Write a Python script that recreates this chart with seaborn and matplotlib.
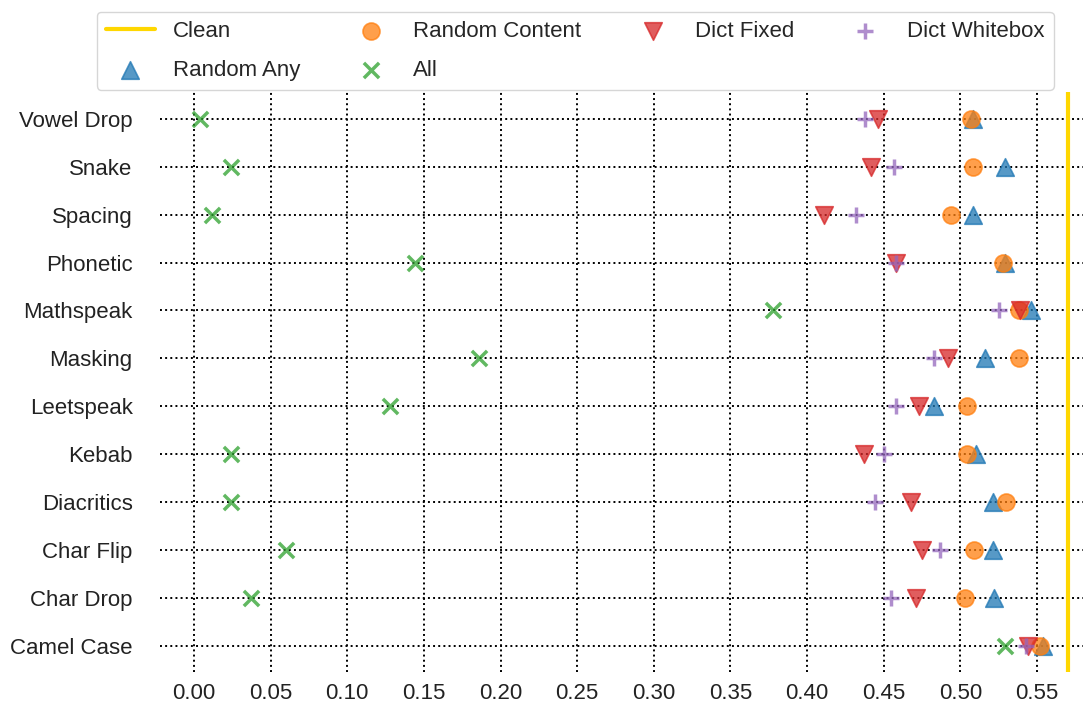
import numpy as np
import pandas as pd
import matplotlib
matplotlib.use("Agg")
import matplotlib.pyplot as plt
import seaborn as sns

# Values
attacks = ['Vowel Drop', 'Snake', 'Spacing', 'Phonetic', 'Mathspeak', 'Masking',
           'Leetspeak', 'Kebab', 'Diacritics', 'Char Flip', 'Char Drop', 'Camel Case']
random_any = [0.508, 0.529, 0.508, 0.529, 0.546, 0.516, 0.483, 0.510, 0.521, 0.521, 0.522, 0.554]
random_content = [0.507, 0.508, 0.494, 0.528, 0.538, 0.538, 0.504, 0.504, 0.530, 0.509, 0.503, 0.552]
all_attacks = [0.004, 0.024, 0.012, 0.144, 0.378, 0.186, 0.128, 0.024, 0.024, 0.060, 0.037, 0.529]
dict_fixed = [0.446, 0.442, 0.411, 0.458, 0.539, 0.492, 0.473, 0.437, 0.468, 0.475, 0.471, 0.544]
dict_whitebox = [0.438, 0.457, 0.432, 0.458, 0.525, 0.483, 0.458, 0.450, 0.444, 0.487, 0.455, 0.543]
clean_score = 0.570
xticks = [0.00, 0.05, 0.10, 0.15, 0.20, 0.25, 0.30, 0.35, 0.40, 0.45, 0.50, 0.55]

series = {
    'Random Any': random_any,
    'Random Content': random_content,
    'All': all_attacks,
    'Dict Fixed': dict_fixed,
    'Dict Whitebox': dict_whitebox,
}
df = pd.concat(
    [pd.DataFrame({'attack': attacks, 'score': v, 'method': k}) for k, v in series.items()],
    ignore_index=True,
)

styles = {
    'Random Any': dict(marker='^', color='#1f77b4', s=160, filled=True),
    'Random Content': dict(marker='o', color='#ff7f0e', s=150, filled=True),
    'All': dict(marker='x', color='#2ca02c', s=120, filled=False),
    'Dict Fixed': dict(marker='v', color='#d62728', s=160, filled=True),
    'Dict Whitebox': dict(marker='+', color='#9467bd', s=140, filled=False),
}

sns.set_style('whitegrid', {'grid.linestyle': ':', 'grid.color': 'black'})
plt.rcParams['font.family'] = ['Liberation Sans', 'DejaVu Sans']
plt.rcParams['grid.linewidth'] = 1.4

fig = plt.figure(figsize=(10.83, 7.16), dpi=100)
ax = fig.add_axes([0.148, 0.061, 0.852, 0.810])

ax.axvline(clean_score, color='#FFD700', linewidth=3, label='Clean', zorder=3)

for name in series:
    st = styles[name]
    sub = df[df['method'] == name]
    if st['filled']:
        sns.scatterplot(data=sub, x='score', y='attack', ax=ax, marker=st['marker'],
                        color=st['color'], s=st['s'], alpha=0.75,
                        edgecolor=st['color'], linewidth=1.2, label=name, zorder=4)
    else:
        sns.scatterplot(data=sub, x='score', y='attack', ax=ax, marker=st['marker'],
                        color=st['color'], s=st['s'], alpha=0.75,
                        linewidth=2.5, label=name, zorder=4)

ax.set_ylim(len(attacks) - 0.45, -0.55)
ax.set_xlim(-0.022, 0.580)
ax.set_xticks(xticks)
ax.set_xticklabels([f'{t:.2f}' for t in xticks])
ax.set_xlabel('')
ax.set_ylabel('')
ax.tick_params(axis='both', labelsize=16, length=0, colors='#222222')
ax.tick_params(axis='y', pad=20)
ax.tick_params(axis='x', pad=8)
sns.despine(ax=ax, left=True, bottom=True)

handles, labels = ax.get_legend_handles_labels()
ax.get_legend().remove()
fig.legend(handles, labels, loc='upper left', bbox_to_anchor=(97 / 1083, 1 - 12 / 716),
           borderaxespad=0, ncol=4, fontsize=16, frameon=True, labelspacing=0.8,
           columnspacing=2.1, handlelength=2.2, borderpad=0.4)

fig.savefig('out.png', dpi=100)
